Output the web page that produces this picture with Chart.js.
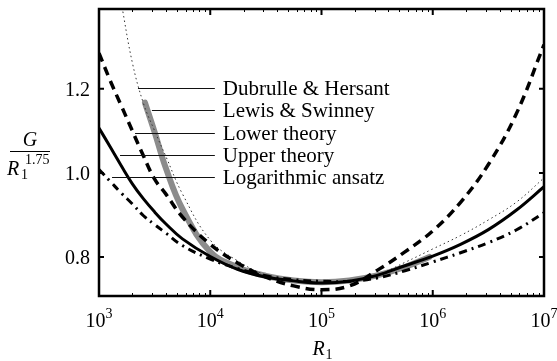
<!DOCTYPE html>
<html>
<head>
<meta charset="utf-8">
<script src="https://cdn.jsdelivr.net/npm/chart.js"></script>
<style>
  html, body { margin: 0; padding: 0; background: #fff; }
  #wrap { width: 557px; height: 361px; position: relative; }
</style>
</head>
<body>
<div id="wrap"><canvas id="chart"></canvas></div>
<script>
/* G / R1^1.75 against R1 — theory curves and measurements */

const R = [1000, 1259, 1585, 1995, 2512, 3162, 3981, 5623, 10000, 17783, 31623, 56234,
           100000, 177828, 316228, 562341, 1000000, 1778279, 3162278, 5623413, 10000000];

const upperTheory = [1.107, 1.062, 1.017, 0.974, 0.938, 0.907, 0.879, 0.843, 0.801, 0.770, 0.752, 0.743,
                     0.738, 0.742, 0.756, 0.779, 0.802, 0.830, 0.865, 0.911, 0.967];
const lowerTheory = [1.285, 1.220, 1.160, 1.100, 1.040, 0.985, 0.950, 0.895, 0.830, 0.785, 0.752, 0.731,
                     0.722, 0.731, 0.768, 0.812, 0.862, 0.930, 1.020, 1.140, 1.305];
const logAnsatz   = [1.008, 0.980, 0.952, 0.926, 0.898, 0.877, 0.857, 0.827, 0.795, 0.772, 0.755, 0.746,
                     0.742, 0.742, 0.750, 0.767, 0.788, 0.810, 0.834, 0.864, 0.905];

const dubrulleR = [1585, 1995, 2512, 3162, 3981, 5623, 10000, 17783, 31623, 56234, 100000, 177828,
                   316228, 562341, 1000000, 1778279, 3162278, 5623413, 10000000];
const dubrulle  = [1.405, 1.262, 1.165, 1.100, 1.040, 0.950, 0.840, 0.790, 0.757, 0.742, 0.738, 0.742,
                   0.757, 0.787, 0.819, 0.851, 0.888, 0.930, 0.988];

const lewisR = [2589, 3162, 3981, 5623, 10000, 17783, 31623, 56234, 100000, 177828, 316228, 562341, 933254];
const lewis  = [1.167, 1.097, 1.012, 0.914, 0.812, 0.775, 0.755, 0.744, 0.740, 0.744, 0.756, 0.776, 0.800];

// axes
const xTicks = [1e3, 1e4, 1e5, 1e6, 1e7];
const yTicks = [0.8, 1.0, 1.2];

// labels pointing at the curves
const noteLabels = ['Dubrulle & Hersant', 'Lewis & Swinney', 'Lower theory', 'Upper theory', 'Logarithmic ansatz'];
const noteY      = [1.202, 1.150, 1.095, 1.043, 0.990];
const noteFromR  = [2240, 2990, 2110, 1545, 1310];
const noteToR    = 11000;

const SERIF = "'Liberation Serif', 'DejaVu Serif', serif";

function pts(xs, ys) {
  return xs.map((x, i) => ({ x: x, y: ys[i] }));
}

const curve = {
  showLine: true,
  fill: false,
  pointRadius: 0,
  tension: 0.4,
  clip: 0
};

const decor = {
  id: 'decor',
  afterDraw(chart) {
    const { ctx, chartArea: a, scales: { x, y } } = chart;
    ctx.save();

    // frame
    ctx.strokeStyle = '#000';
    ctx.lineWidth = 2.5;
    ctx.strokeRect(a.left, a.top, a.right - a.left, a.bottom - a.top);

    // log minor ticks, top and bottom
    ctx.lineWidth = 1;
    for (let d = 3; d < 7; d++) {
      for (let k = 2; k <= 9; k++) {
        const px = Math.round(x.getPixelForValue(k * Math.pow(10, d))) + 0.5;
        ctx.beginPath();
        ctx.moveTo(px, a.bottom); ctx.lineTo(px, a.bottom - 3);
        ctx.moveTo(px, a.top); ctx.lineTo(px, a.top + 3);
        ctx.stroke();
      }
    }

    // major ticks
    ctx.lineWidth = 2;
    xTicks.forEach(v => {
      const px = x.getPixelForValue(v);
      ctx.beginPath();
      ctx.moveTo(px, a.bottom); ctx.lineTo(px, a.bottom - 6);
      ctx.moveTo(px, a.top); ctx.lineTo(px, a.top + 6);
      ctx.stroke();
    });
    yTicks.forEach(v => {
      const py = y.getPixelForValue(v);
      ctx.beginPath();
      ctx.moveTo(a.left, py); ctx.lineTo(a.left + 5, py);
      ctx.moveTo(a.right, py); ctx.lineTo(a.right - 5, py);
      ctx.stroke();
    });

    ctx.fillStyle = '#000';
    ctx.textBaseline = 'alphabetic';

    // x tick labels 10^n
    xTicks.forEach(v => {
      const px = x.getPixelForValue(v);
      const exp = String(Math.round(Math.log10(v)));
      ctx.font = '20px ' + SERIF;
      const wb = ctx.measureText('10').width;
      ctx.font = '14px ' + SERIF;
      const we = ctx.measureText(exp).width;
      const x0 = px - (wb + we) / 2;
      ctx.textAlign = 'left';
      ctx.font = '20px ' + SERIF;
      ctx.fillText('10', x0, 327);
      ctx.font = '14px ' + SERIF;
      ctx.fillText(exp, x0 + wb, 318);
    });

    // y tick labels
    ctx.font = '20px ' + SERIF;
    ctx.textAlign = 'right';
    yTicks.forEach(v => {
      ctx.fillText(v.toFixed(1), a.left - 9, y.getPixelForValue(v) + 7);
    });

    // x axis title R_1
    ctx.textAlign = 'left';
    ctx.font = 'italic 20px ' + SERIF;
    const cx = (a.left + a.right) / 2;
    ctx.fillText('R', cx - 9, 355);
    ctx.font = '14px ' + SERIF;
    ctx.fillText('1', cx + 4, 359);

    // y axis title G / R_1^1.75
    ctx.font = 'italic 20px ' + SERIF;
    ctx.textAlign = 'center';
    ctx.fillText('G', 30, 146);
    ctx.lineWidth = 1;
    ctx.beginPath();
    ctx.moveTo(10, 151.5); ctx.lineTo(50, 151.5);
    ctx.stroke();
    ctx.textAlign = 'left';
    ctx.fillText('R', 7, 175);
    ctx.font = '14px ' + SERIF;
    ctx.fillText('1', 21, 179);
    ctx.fillText('1.75', 25, 164);

    // annotations with leader lines
    const tx = x.getPixelForValue(noteToR);
    ctx.font = '21px ' + SERIF;
    ctx.strokeStyle = '#111';
    noteLabels.forEach((label, i) => {
      const py = Math.round(y.getPixelForValue(noteY[i])) + 0.5;
      ctx.beginPath();
      ctx.moveTo(x.getPixelForValue(noteFromR[i]), py);
      ctx.lineTo(tx, py);
      ctx.stroke();
      ctx.fillText(label, tx + 8, py + 6);
    });

    ctx.restore();
  }
};

new Chart(document.getElementById('chart'), {
  type: 'scatter',
  data: {
    datasets: [
      Object.assign({ label: 'Upper theory', data: pts(R, upperTheory),
        borderColor: '#000', borderWidth: 3 }, curve),
      Object.assign({ label: 'Lower theory', data: pts(R, lowerTheory),
        borderColor: '#000', borderWidth: 3.5, borderDash: [9, 6] }, curve),
      Object.assign({ label: 'Logarithmic ansatz', data: pts(R, logAnsatz),
        borderColor: '#000', borderWidth: 3, borderDash: [8, 5, 2, 5] }, curve),
      Object.assign({ label: 'Dubrulle & Hersant', data: pts(dubrulleR, dubrulle),
        borderColor: '#333', borderWidth: 1, borderDash: [1.5, 3] }, curve),
      Object.assign({ label: 'Lewis & Swinney', data: pts(lewisR, lewis),
        borderColor: '#8c8c8c', borderWidth: 6, borderCapStyle: 'round' }, curve)
    ]
  },
  options: {
    responsive: true,
    maintainAspectRatio: false,
    animation: false,
    events: [],
    layout: { padding: { left: 99, right: 13, top: 9, bottom: 65 } },
    plugins: {
      legend: { display: false },
      tooltip: { enabled: false }
    },
    scales: {
      x: { type: 'logarithmic', min: 1e3, max: 1e7, display: false },
      y: { type: 'linear', min: 0.707, max: 1.39, display: false }
    }
  },
  plugins: [decor]
});
</script>
</body>
</html>
